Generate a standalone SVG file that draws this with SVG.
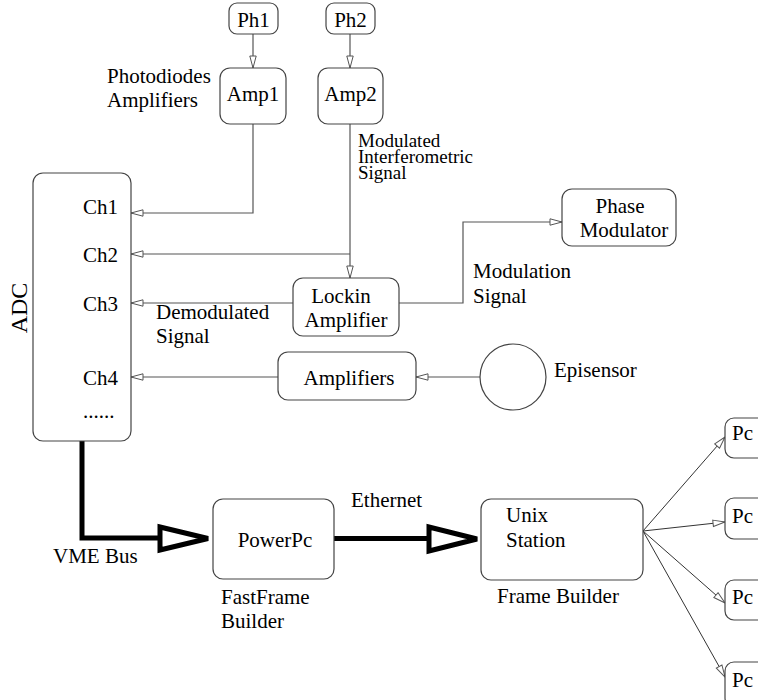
<svg xmlns="http://www.w3.org/2000/svg" width="758" height="700" viewBox="0 0 758 700" font-family="'Liberation Serif', 'Times New Roman', Times, 'DejaVu Serif', serif">
<style>
text{font-family:'Liberation Serif','Times New Roman',Times,'DejaVu Serif',serif;font-size:21px;fill:#000}
.m{text-anchor:middle}
.box{fill:#fff;stroke:#444;stroke-width:1.2}
.ln{fill:none;stroke:#555;stroke-width:1.2}
.fan{fill:none;stroke:#333;stroke-width:1}
.thick{fill:none;stroke:#000;stroke-width:5}
.tri{fill:#fff;stroke:#000;stroke-width:5;stroke-linejoin:miter}
.sm{font-size:19px}
</style>
<defs>
<marker id="ah" markerUnits="userSpaceOnUse" markerWidth="14" markerHeight="10" refX="13" refY="4" orient="auto">
<path d="M1,0.8 L13,4 L1,7.2 z" fill="#fff" stroke="#555" stroke-width="1"/>
</marker>
</defs>
<rect width="758" height="700" fill="#fff"/>
<g id="connectors">
<path class="ln" d="M253,34 V68" marker-end="url(#ah)"/>
<path class="ln" d="M350,34 V68" marker-end="url(#ah)"/>
<path class="ln" d="M253,124 V213 H131" marker-end="url(#ah)"/>
<path class="ln" d="M350,124 V278" marker-end="url(#ah)"/>
<path class="ln" d="M350,254 H131" marker-end="url(#ah)"/>
<path class="ln" d="M293,303 H131" marker-end="url(#ah)"/>
<path class="ln" d="M399,303 H463 V222 H562" marker-end="url(#ah)"/>
<path class="ln" d="M480,377 H416" marker-end="url(#ah)"/>
<path class="ln" d="M278,377 H131" marker-end="url(#ah)"/>
<path class="thick" d="M82,441 V538 H160"/>
<polygon class="tri" points="160,527 160,550 208,538.5"/>
<path class="thick" d="M334,538.5 H429"/>
<polygon class="tri" points="429,527 429,551 477,539"/>
<path class="fan" d="M643,531 L725,437" marker-end="url(#ah)"/>
<path class="fan" d="M643,531 L725,522" marker-end="url(#ah)"/>
<path class="fan" d="M643,531 L725,603" marker-end="url(#ah)"/>
<path class="fan" d="M643,531 L725,677" marker-end="url(#ah)"/>
</g>
<g id="ph1"><rect class="box" x="229" y="3" width="49" height="31" rx="8"/><text class="m" x="253.5" y="27">Ph1</text></g>
<g id="ph2"><rect class="box" x="326" y="3" width="49" height="31" rx="8"/><text class="m" x="350.5" y="27">Ph2</text></g>
<g id="amp1"><rect class="box" x="220" y="68" width="66" height="56" rx="10"/><text class="m" x="253" y="101">Amp1</text></g>
<g id="amp2"><rect class="box" x="318" y="68" width="65" height="56" rx="10"/><text class="m" x="350.5" y="101">Amp2</text></g>
<g id="photodiodes-label"><text x="107" y="83">Photodiodes</text><text x="107" y="107">Amplifiers</text></g>
<g id="modulated-label"><text class="sm" x="358" y="147">Modulated</text><text class="sm" x="358" y="163">Interferometric</text><text class="sm" x="358" y="179">Signal</text></g>
<g id="adc">
<rect class="box" x="33" y="173" width="98" height="268" rx="10"/>
<text class="m" transform="translate(27,308) rotate(-90)" style="font-size:24px">ADC</text>
<text x="83" y="214">Ch1</text>
<text x="83" y="262">Ch2</text>
<text x="83" y="311">Ch3</text>
<text x="83" y="385">Ch4</text>
<text x="83" y="418">......</text>
</g>
<g id="lockin"><rect class="box" x="293" y="278" width="106" height="58" rx="10"/><text class="m" x="341" y="303">Lockin</text><text class="m" x="346" y="327">Amplifier</text></g>
<g id="demod-label"><text x="156" y="319">Demodulated</text><text x="156" y="343">Signal</text></g>
<g id="phase-modulator"><rect class="box" x="562" y="189" width="114" height="57" rx="10"/><text class="m" x="620" y="213">Phase</text><text class="m" x="624" y="237">Modulator</text></g>
<g id="modulation-label"><text x="473" y="278">Modulation</text><text x="473" y="303">Signal</text></g>
<g id="amplifiers"><rect class="box" x="278" y="352" width="138" height="48" rx="10"/><text class="m" x="349" y="385">Amplifiers</text></g>
<g id="episensor"><circle class="box" cx="513" cy="377" r="33"/><text x="554" y="377">Episensor</text></g>
<g id="vme-label"><text x="53" y="563">VME Bus</text></g>
<g id="powerpc"><rect class="box" x="213" y="499" width="121" height="80" rx="10"/><text class="m" x="275" y="547">PowerPc</text></g>
<g id="fastframe-label"><text x="221" y="604">FastFrame</text><text x="221" y="628">Builder</text></g>
<g id="ethernet-label"><text x="351" y="507">Ethernet</text></g>
<g id="unix-station"><rect class="box" x="481" y="499" width="162" height="81" rx="10"/><text x="506" y="522">Unix</text><text x="506" y="547">Station</text></g>
<g id="framebuilder-label"><text x="497" y="603">Frame Builder</text></g>
<g id="pc1"><rect class="box" x="725" y="418" width="50" height="40" rx="9"/><text x="732" y="440">Pc</text></g>
<g id="pc2"><rect class="box" x="725" y="498" width="50" height="41" rx="9"/><text x="732" y="523">Pc</text></g>
<g id="pc3"><rect class="box" x="725" y="580" width="50" height="40" rx="9"/><text x="732" y="604">Pc</text></g>
<g id="pc4"><rect class="box" x="725" y="662" width="50" height="45" rx="9"/><text x="732" y="687">Pc</text></g>
</svg>
